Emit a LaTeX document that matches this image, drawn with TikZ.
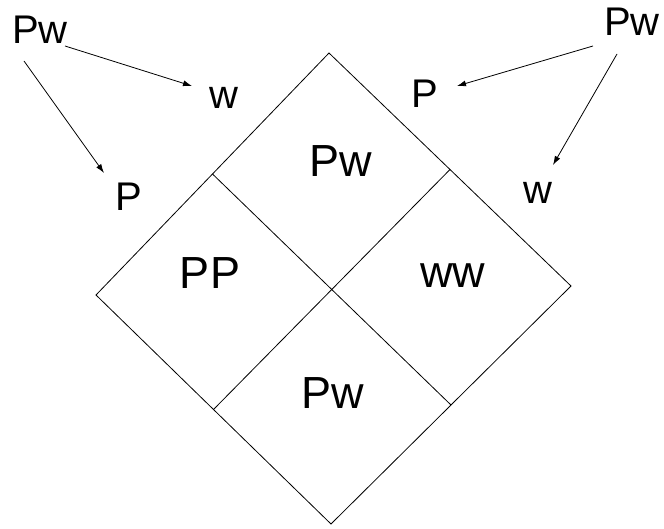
\documentclass[tikz,border=0pt]{standalone}
\usepackage{fontspec}
\setmainfont{Liberation Sans}
\usetikzlibrary{arrows.meta,calc}
\begin{document}
\begin{tikzpicture}[x=1pt,y=-1pt,
  lbl/.style={inner sep=0pt,font=\fontsize{40}{48}\selectfont},
  cell/.style={inner sep=0pt,font=\fontsize{45}{54}\selectfont},
  grid/.style={line width=0.8pt,line join=miter},
  gam/.style={line width=0.8pt,-{Latex[length=9pt,width=6pt]}}]
\useasboundingbox (0,0) rectangle (664,529);
% outer square, standing on a corner
\coordinate (top) at (329,53);
\coordinate (lft) at (96,295);
\coordinate (rgt) at (571,286);
\coordinate (bot) at (331,524);
\coordinate (ul) at ($(top)!0.5!(lft)$);
\coordinate (ur) at ($(top)!0.5!(rgt)$);
\coordinate (ll) at ($(lft)!0.5!(bot)$);
\coordinate (lr) at ($(rgt)!0.5!(bot)$);
\draw[grid] (top) -- (rgt) -- (bot) -- (lft) -- cycle;
\draw[grid] (ul) -- (lr);
\draw[grid] (ur) -- (ll);
% offspring in the cells
\node[cell] (c1) at (341,161) {Pw};
\node[cell] (c2) at (210,273) {PP};
\node[cell] (c3) at (453,276) {ww};
\node[cell] (c4) at (333,393) {Pw};
% parents and their gametes
\node[lbl] (pa) at (40,30) {Pw};
\node[lbl] (wa) at (224,98) {w};
\node[lbl] (Pa) at (129,197) {P};
\node[lbl] (pb) at (632,22) {Pw};
\node[lbl] (Pb) at (425,94) {P};
\node[lbl] (wb) at (538,193) {w};
\draw[gam] ([shift={(25,16)}]pa.center) -- ([shift={(-32,-12)}]wa.center);
\draw[gam] ([shift={(-16,31)}]pa.center) -- ([shift={(-25,-24)}]Pa.center);
\draw[gam] ([shift={(-39,24)}]pb.center) -- ([shift={(32,-8)}]Pb.center);
\draw[gam] ([shift={(-15,32)}]pb.center) -- ([shift={(15,-28)}]wb.center);
\end{tikzpicture}
\end{document}
